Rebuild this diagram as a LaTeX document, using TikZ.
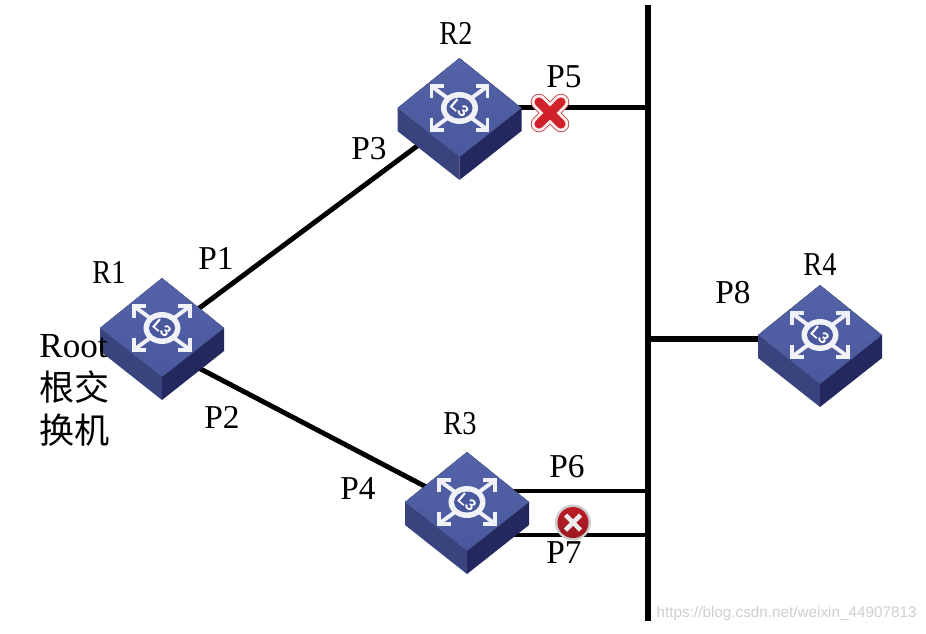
\documentclass[tikz,border=0pt]{standalone}
\usepackage{fontspec}
\setmainfont{Liberation Serif}
\newfontfamily\cjk{Noto Sans CJK SC}
\newfontfamily\wmfont{Liberation Sans}
\usetikzlibrary{shapes.geometric}
\definecolor{swtop}{HTML}{4A589E}
\definecolor{swtoplight}{HTML}{5463A8}
\definecolor{swleft}{HTML}{39447F}
\definecolor{swright}{HTML}{23285F}
\definecolor{xred}{HTML}{D0202A}
\begin{document}
\begin{tikzpicture}
[   x=0.02cm,y=-0.02cm,
    swbase/.style={diamond,minimum width=2.48cm,minimum height=2.44cm,inner sep=0pt,outer sep=0pt},
    wire/.style={line width=2.8pt},
    busline/.style={line width=3.2pt},
    lbl/.style={font=\fontsize{19}{24.5}\selectfont,inner sep=0pt},
    pics/switch/.style={code={
        \fill[swleft] (-62,-11) -- (0,38) -- (0,61) -- (-62,12) -- cycle;
        \fill[swright] (62,-11) -- (0,38) -- (0,61) -- (62,12) -- cycle;
        \fill[top color=swtoplight,bottom color=swtop] (0,-61) -- (62,-11) -- (0,38) -- (-62,-11) -- cycle;
        \foreach \sx/\sy in {1/1,1/-1,-1/1,-1/-1}
        {   \draw[white!92!swtop,line width=2.2pt] (\sx*12,-11+\sy*10) -- (\sx*27,-11+\sy*21);
            \draw[white!92!swtop,line width=2.2pt,miter limit=4] (\sx*16,-11+\sy*22) -- (\sx*28,-11+\sy*22) -- (\sx*28,-11+\sy*10);
        }
        \fill[white!92!swtop] (0,-11) ellipse (18.5 and 16);
        \fill[swtop] (0,-11) ellipse (13 and 10.5);
        \node[white,inner sep=0pt,rotate=-40,font=\wmfont\bfseries\fontsize{9}{9}\selectfont] at (0,-11) {L3};
    }},
    pics/crossmark/.style={code={
        \draw[red!45!gray,line width=9.4pt,line cap=round] (-11,-11) -- (11,11) (-11,11) -- (11,-11);
        \draw[red!8!white,line width=8.4pt,line cap=round] (-11,-11) -- (11,11) (-11,11) -- (11,-11);
        \draw[xred,line width=5.2pt,line cap=round] (-11,-11) -- (11,11) (-11,11) -- (11,-11);
    }},
    pics/crossball/.style={code={
        \fill[gray!40] (0,0) circle (18);
        \shade[top color=xred!90!black,bottom color=xred!75!black] (0,0) circle (15.5);
        \draw[white!85!gray,line width=2.6pt] (-7.5,-7.5) -- (7.5,7.5) (-7.5,7.5) -- (7.5,-7.5);
    }},
]
    \useasboundingbox (0,0) rectangle (926,633);
    \node[swbase] (R1) at (162,339) {};
    \node[swbase] (R2) at (459.5,119) {};
    \node[swbase] (R3) at (467,513) {};
    \node[swbase] (R4) at (820,346) {};
    \coordinate (bus-top) at (648,5);
    \coordinate (bus-bottom) at (648,621);
    \draw[busline] (bus-top) -- (bus-bottom);
    \draw[wire] (R1.40) -- (R2.212.7);
    \draw[wire] (R1.-39) -- (R3.147);
    \draw[wire] (R2.13.5) -- (R2.13.5 -| bus-top);
    \draw[wire] (R3.29) -- (R3.29 -| bus-top);
    \draw[wire] (R3.-29) -- (R3.-29 -| bus-top);
    \draw[busline] (R4.173.9) -- (R4.173.9 -| bus-top);
    \foreach \x in {R1,R2,R3,R4}
    {   \pic at (\x) {switch};
    }
    \coordinate (block-p5) at (550,113);
    \coordinate (block-p7) at (573,522.5);
    \pic at (block-p5) {crossmark};
    \pic at (block-p7) {crossball};
    \foreach \name/\px/\py in {R1/109/272,R2/456/33,R3/460/424,R4/820/265}
    {   \node[lbl,xscale=0.85] (lbl-\name) at (\px,\py) {\name};
    }
    \foreach \name/\px/\py in {P1/216/258,P2/222/417,P3/369/149,P4/358/489,P5/564/77,P6/567/467,P7/564/553,P8/733/293}
    {   \node[lbl] (lbl-\name) at (\px,\py) {\name};
    }
    \node[lbl,align=left,anchor=north west,font=\fontsize{20}{24.4}\selectfont] (lbl-root) at (39,334) {Root\\{\cjk 根交}\\{\cjk 换机}};
    \node[inner sep=0pt,anchor=east,text=gray!38,font=\wmfont\fontsize{8.7}{8.7}\selectfont] (watermark) at (917,614) {https://blog.csdn.net/weixin\_44907813};
\end{tikzpicture}
\end{document}
